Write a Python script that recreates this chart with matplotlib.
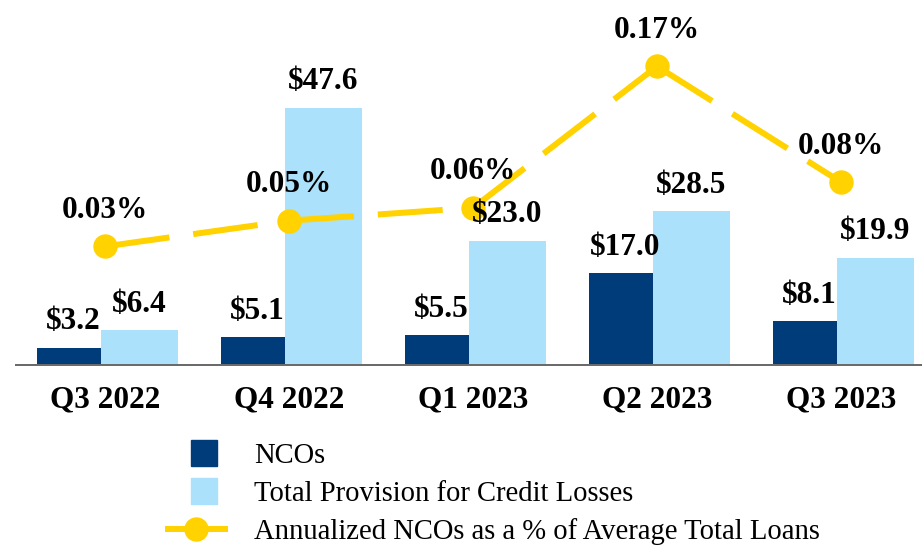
import numpy as np
import matplotlib
matplotlib.use("Agg")
import matplotlib.pyplot as plt
from matplotlib.patches import Patch, Rectangle
from matplotlib.lines import Line2D
from matplotlib.legend_handler import HandlerPatch

# ---- data ----
quarters = ["Q3 2022", "Q4 2022", "Q1 2023", "Q2 2023", "Q3 2023"]
ncos = [3.2, 5.1, 5.5, 17.0, 8.1]
provision = [6.4, 47.6, 23.0, 28.5, 19.9]
nco_ratio = [0.03, 0.05, 0.06, 0.17, 0.08]
series_names = ["NCOs", "Total Provision for Credit Losses",
                "Annualized NCOs as a % of Average Total Loans"]

NAVY = "#003B7A"
LIGHT = "#ABE1FA"
GOLD = "#FFD200"
AXIS_GREY = "#6B6B6B"
SERIF = ["Liberation Serif", "DejaVu Serif"]

plt.rcParams["lines.scale_dashes"] = False

DPI = 100
W, H = 922, 546
px = 72 / DPI  # points per pixel

fig = plt.figure(figsize=(W / DPI, H / DPI), dpi=DPI)
ax = fig.add_axes([16 / W, 1 - 365 / H, 906 / W, 365 / H])

x = np.arange(len(quarters))
nco_left, nco_w = -0.372, 0.350
prov_left, prov_w = -0.022, 0.419
ax.bar(x + nco_left, ncos, width=nco_w, align="edge", color=NAVY, zorder=2)
ax.bar(x + prov_left, provision, width=prov_w, align="edge", color=LIGHT, zorder=2)

ax.set_xlim(-0.484, 4.440)
ax.set_ylim(0, 365 / 5.4)
for s in ["top", "left", "right"]:
    ax.spines[s].set_visible(False)
ax.spines["bottom"].set_color(AXIS_GREY)
ax.spines["bottom"].set_linewidth(2 * px)
ax.set_yticks([])
ax.set_xticks(x)
ax.set_xticklabels(quarters, fontsize=22.5, fontweight="bold", family=SERIF)
ax.tick_params(axis="x", length=0, pad=15)

ax2 = ax.twinx()
ax2.set_ylim(-80 / 1286, 285 / 1286)
ax2.set_yticks([])
for s in ax2.spines.values():
    s.set_visible(False)

# dashed line, pattern restarting on each segment
for i in range(len(x) - 1):
    ax2.plot(x[i:i + 2], nco_ratio[i:i + 2], color=GOLD, lw=6 * px,
             dashes=(65 * px, 24 * px), dash_capstyle="butt",
             solid_capstyle="butt", zorder=3)
ax2.plot(x, nco_ratio, ls="none", marker="o", ms=23 * px, color=GOLD, zorder=4)

lbl = dict(fontsize=22.5, fontweight="bold", family=SERIF, ha="center",
           va="center", color="black", zorder=6)
for xi, v in zip(x, nco_ratio):
    ax2.annotate(f"{v:.2f}%", (xi, v), xytext=(0, 36 * px),
                 textcoords="offset points", **lbl)
for xi, v in zip(x, ncos):
    ax2.annotate(f"${v:.1f}", (xi + nco_left + nco_w / 2, v), xycoords=ax.transData,
                 xytext=(4 * px, 26 * px), textcoords="offset points", **lbl)
for xi, v in zip(x, provision):
    ax2.annotate(f"${v:.1f}", (xi + prov_left + prov_w / 2, v), xycoords=ax.transData,
                 xytext=(0, 26 * px), textcoords="offset points", **lbl)


def square(legend, orig_handle, xdescent, ydescent, width, height, fontsize):
    s = 26 * px
    return Rectangle((-xdescent + width / 2 - s / 2 + 8 * px,
                      -ydescent + height / 2 - s / 2), s, s)


handles = [Patch(color=NAVY), Patch(color=LIGHT),
           Line2D([], [], color=GOLD, lw=6 * px, marker="o", ms=23 * px,
                  solid_capstyle="butt")]
fig.legend(handles, series_names, loc="upper left",
           bbox_to_anchor=(165 / W, 1 - 443 / H), frameon=False,
           prop={"family": SERIF, "size": 20.6}, handlelength=2.2,
           handletextpad=0.91, labelspacing=0.41, borderpad=0,
           borderaxespad=0, numpoints=1,
           handler_map={Patch: HandlerPatch(patch_func=square)})

fig.savefig("out.png", dpi=DPI)
